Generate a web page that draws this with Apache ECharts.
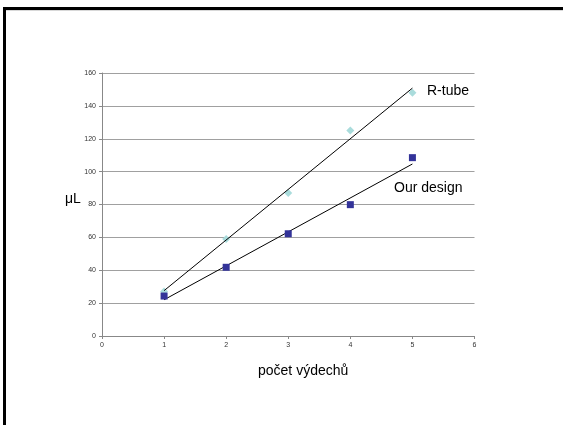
<!DOCTYPE html>
<html>
<head>
<meta charset="utf-8">
<script src="https://cdn.jsdelivr.net/npm/echarts@6/dist/echarts.min.js"></script>
<style>
  html, body { margin: 0; padding: 0; background: #fff; }
  #chart { width: 563px; height: 425px; }
</style>
</head>
<body>
<div id="chart"></div>
<script>
// Number of exhalations and measured volume (µL) for each device
const breaths = [1, 2, 3, 4, 5];
const rTube = [27, 59, 87, 125, 148];
const ourDesign = [24.3, 41.8, 62.2, 79.9, 108.5];

const xTicks = { min: 0, max: 6, step: 1 };
const yTicks = { min: 0, max: 160, step: 20 };

// Least-squares linear trend across the measured points
function trend(xs, ys) {
  const n = xs.length;
  const mx = xs.reduce((a, b) => a + b, 0) / n;
  const my = ys.reduce((a, b) => a + b, 0) / n;
  let sxy = 0, sxx = 0;
  for (let i = 0; i < n; i++) {
    sxy += (xs[i] - mx) * (ys[i] - my);
    sxx += (xs[i] - mx) * (xs[i] - mx);
  }
  const k = sxy / sxx, q = my - k * mx;
  const x0 = xs[0], x1 = xs[n - 1];
  return [[x0, k * x0 + q], [x1, k * x1 + q]];
}

const pairs = (xs, ys) => xs.map((x, i) => [x, ys[i]]);

const chart = echarts.init(document.getElementById('chart'), null, { renderer: 'canvas' });
const tickFont = { fontFamily: 'Liberation Sans, Arial, sans-serif', fontSize: 7, color: '#333' };

chart.setOption({
  animation: false,
  backgroundColor: '#fff',
  grid: { left: 102, right: 88.5, top: 73, bottom: 89 },
  xAxis: {
    type: 'value', min: xTicks.min, max: xTicks.max, interval: xTicks.step,
    axisLine: { lineStyle: { color: '#888', width: 1 } },
    axisTick: { show: true, length: 3, lineStyle: { color: '#888' } },
    axisLabel: Object.assign({ margin: 6 }, tickFont),
    splitLine: { show: false }
  },
  yAxis: {
    type: 'value', min: yTicks.min, max: yTicks.max, interval: yTicks.step,
    axisLine: { show: true, lineStyle: { color: '#888', width: 1 } },
    axisTick: { show: true, length: 3, lineStyle: { color: '#888' } },
    axisLabel: Object.assign({ margin: 6 }, tickFont),
    splitLine: { show: true, lineStyle: { color: '#a0a0a0', width: 1.2 } }
  },
  series: [
    {
      name: 'R-tube trend', type: 'line', data: trend(breaths, rTube),
      showSymbol: false, symbol: 'none', lineStyle: { color: '#000', width: 1 }, z: 3
    },
    {
      name: 'Our design trend', type: 'line', data: trend(breaths, ourDesign),
      showSymbol: false, symbol: 'none', lineStyle: { color: '#000', width: 1 }, z: 3
    },
    {
      name: 'R-tube', type: 'scatter', data: pairs(breaths, rTube),
      symbol: 'diamond', symbolSize: 8, itemStyle: { color: '#aadcdc', opacity: 1 }, z: 2
    },
    {
      name: 'Our design', type: 'scatter', data: pairs(breaths, ourDesign),
      symbol: 'rect', symbolSize: 7, itemStyle: { color: '#333399', opacity: 1 }, z: 4
    }
  ],
  graphic: [
    // slide frame: heavy top and left rules with a faint shadow line
    { type: 'rect', shape: { x: 3, y: 7, width: 560, height: 3 }, style: { fill: '#000' } },
    { type: 'rect', shape: { x: 6, y: 10, width: 557, height: 1 }, style: { fill: '#d8d8d8' } },
    { type: 'rect', shape: { x: 3, y: 7, width: 3, height: 418 }, style: { fill: '#000' } },
    { type: 'text', left: 427, top: 84,
      style: { text: 'R-tube', font: '14px "Liberation Sans", Arial, sans-serif', fill: '#000' } },
    { type: 'text', left: 394, top: 181,
      style: { text: 'Our design', font: '14px "Liberation Sans", Arial, sans-serif', fill: '#000' } },
    { type: 'text', left: 65, top: 192,
      style: { text: 'μL', font: '14px "Liberation Sans", Arial, sans-serif', fill: '#000' } },
    { type: 'text', left: 258, top: 364,
      style: { text: 'počet výdechů', font: '14px "Liberation Sans", Arial, sans-serif', fill: '#000' } }
  ]
});
</script>
</body>
</html>
